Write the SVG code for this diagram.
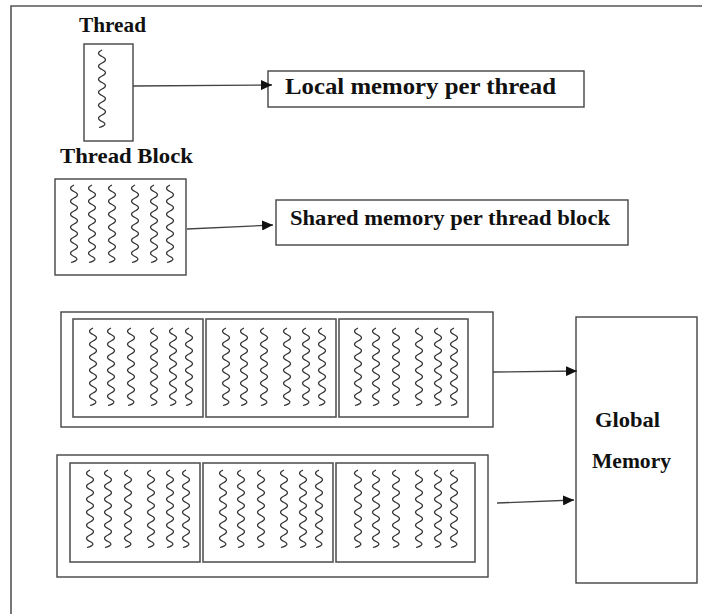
<svg xmlns="http://www.w3.org/2000/svg" xmlns:xlink="http://www.w3.org/1999/xlink" width="702" height="614" viewBox="0 0 702 614">
<style>
.box{fill:#fff;stroke:#444;stroke-width:1.4}
.ibox{fill:none;stroke:#555;stroke-width:1.6}
.w{fill:none;stroke:#333;stroke-width:1.2}
.t{font-family:"Liberation Serif","Times New Roman",serif;font-weight:bold;font-size:22px;fill:#111}
.c{fill:none;stroke:#444;stroke-width:1.3}
.frame{stroke:#555;stroke-width:1.6;fill:none}
</style>
<defs>
<path id="wave" class="w" d="M3,0 q-7,3.25 0,6.5 t0,6.5 t0,6.5 t0,6.5 t0,6.5 t0,6.5 t0,6.5 t0,6.5 t0,6.5 t0,6.5 t0,6.5 t-3,6"/>
<g id="threads">
<use xlink:href="#wave" x="19" y="0"/>
<use xlink:href="#wave" x="37" y="0"/>
<use xlink:href="#wave" x="57" y="0"/>
<use xlink:href="#wave" x="80" y="0"/>
<use xlink:href="#wave" x="99" y="0"/>
<use xlink:href="#wave" x="115" y="0"/>
</g>
<marker id="ah" markerWidth="12" markerHeight="10" refX="11" refY="5" orient="auto" markerUnits="userSpaceOnUse">
<path d="M0,0 L11,5 L0,10 z" fill="#111"/>
</marker>
</defs>
<path class="frame" d="M11,614 L11,6 L702,6"/>

<g id="thread">
<text class="t" x="79" y="32" textLength="67" lengthAdjust="spacingAndGlyphs">Thread</text>
<rect class="box" x="84" y="44" width="49" height="97"/>
<use xlink:href="#wave" x="99" y="50"/>
</g>

<g id="local-memory">
<rect class="box" x="268" y="71" width="316" height="36"/>
<text class="t" x="285" y="94" style="font-size:23px" textLength="271" lengthAdjust="spacingAndGlyphs">Local memory per thread</text>
</g>

<g id="thread-block">
<text class="t" x="60" y="163" textLength="133" lengthAdjust="spacingAndGlyphs">Thread Block</text>
<rect class="box" x="55" y="179" width="131" height="96"/>
<use xlink:href="#threads" x="52" y="185"/>
</g>

<g id="shared-memory">
<rect class="box" x="276" y="200" width="352" height="45"/>
<text class="t" x="290" y="225" textLength="320" lengthAdjust="spacingAndGlyphs">Shared memory per thread block</text>
</g>

<g id="grid1">
<rect class="box" x="61" y="312" width="432" height="115"/>
<rect class="ibox" x="73" y="319" width="130" height="98"/>
<rect class="ibox" x="206" y="319" width="130" height="98"/>
<rect class="ibox" x="339" y="319" width="129" height="98"/>
<use xlink:href="#threads" x="71" y="328"/>
<use xlink:href="#threads" x="204" y="328"/>
<use xlink:href="#threads" x="336" y="328"/>
</g>

<g id="grid2">
<rect class="box" x="57" y="455" width="431" height="122"/>
<rect class="ibox" x="70" y="463" width="130" height="99"/>
<rect class="ibox" x="203" y="463" width="130" height="99"/>
<rect class="ibox" x="336" y="463" width="139" height="99"/>
<use xlink:href="#threads" x="68" y="470"/>
<use xlink:href="#threads" x="201" y="470"/>
<use xlink:href="#threads" x="336" y="470"/>
</g>

<g id="global-memory">
<rect class="box" x="576" y="317" width="121" height="266"/>
<text class="t" x="595" y="427" textLength="65" lengthAdjust="spacingAndGlyphs">Global</text>
<text class="t" x="592" y="468" textLength="79" lengthAdjust="spacingAndGlyphs">Memory</text>
</g>

<g id="connectors">
<line class="c" x1="133" y1="86" x2="272" y2="85" marker-end="url(#ah)"/>
<line class="c" x1="187" y1="229" x2="273" y2="225" marker-end="url(#ah)"/>
<line class="c" x1="493" y1="372" x2="577" y2="371" marker-end="url(#ah)"/>
<line class="c" x1="497" y1="503" x2="574" y2="500" marker-end="url(#ah)"/>
</g>
</svg>
